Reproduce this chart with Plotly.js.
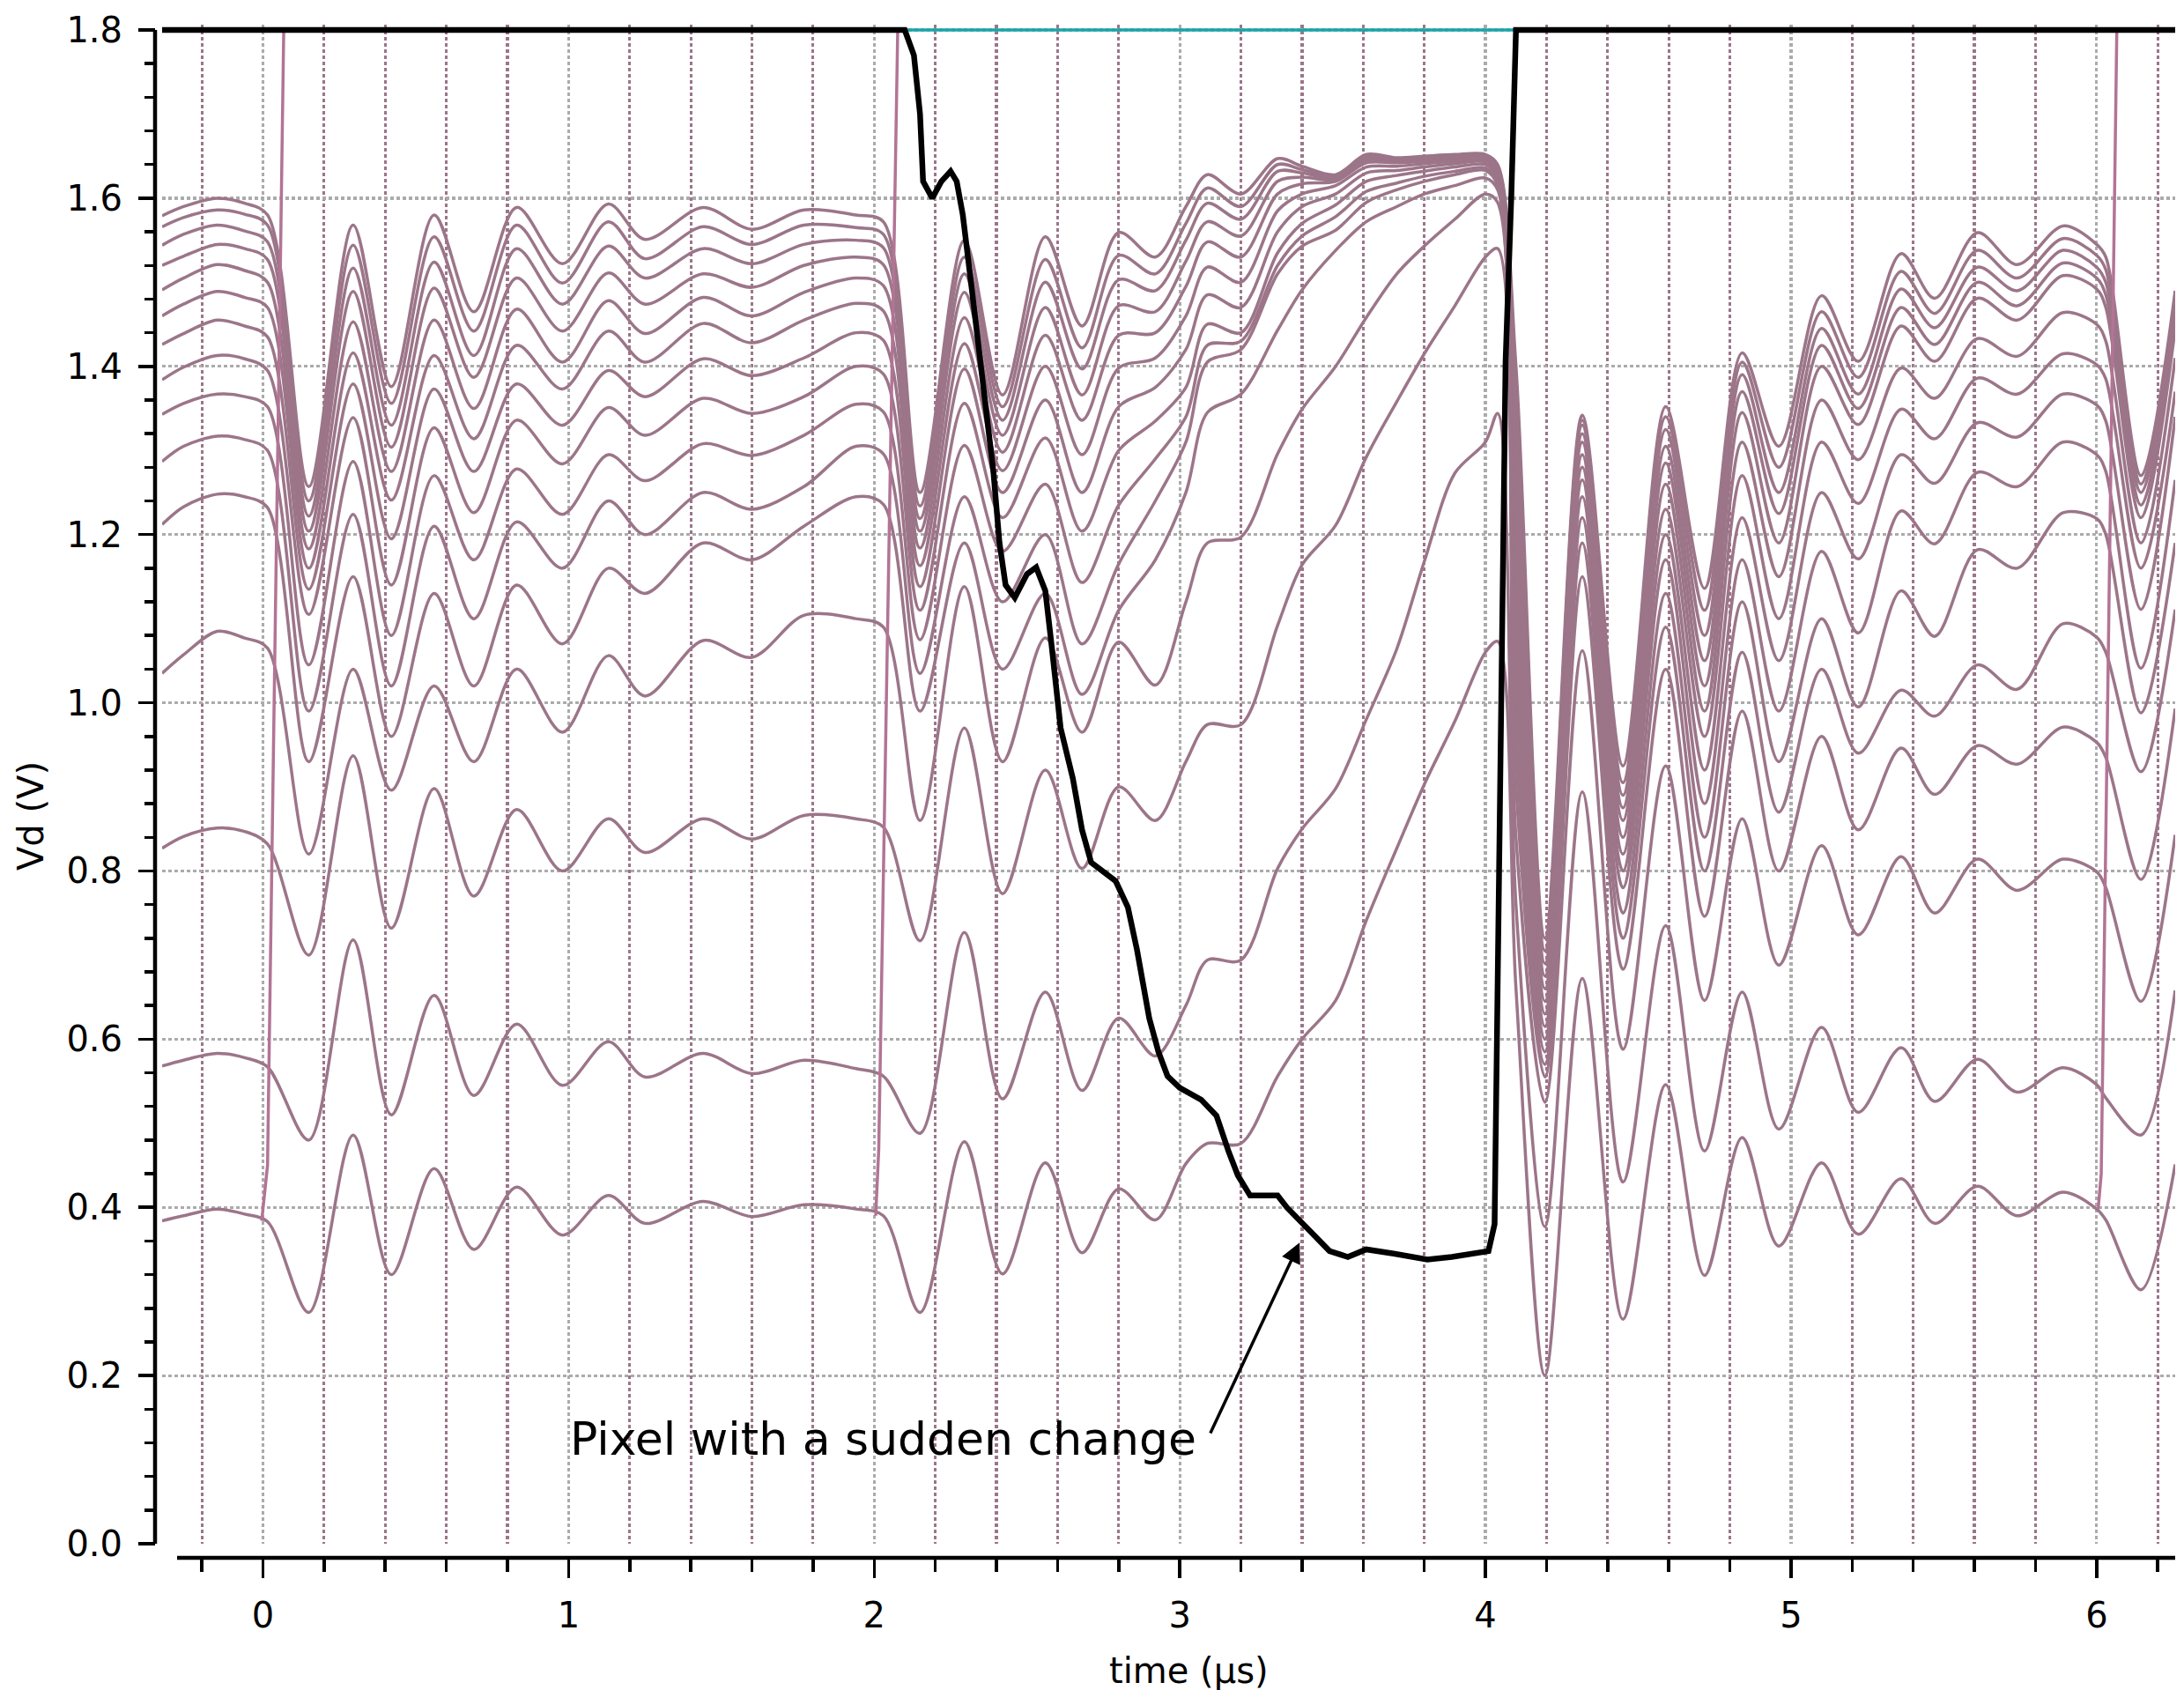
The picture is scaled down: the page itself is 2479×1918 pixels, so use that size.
<!DOCTYPE html>
<html>
<head>
<meta charset="utf-8">
<script src="https://cdn.plot.ly/plotly-3.0.1.min.js"></script>
<style>html,body{margin:0;padding:0;background:#fff;}#chart{width:2479px;height:1918px;}</style>
</head>
<body>
<div id="chart"></div>
<script>
// shared time nodes (µs) for the pixel curves
const T = [-0.33,-0.26,-0.15,-0.06,0.015,0.15,0.295,0.42,0.56,0.69,0.83,0.98,1.13,1.25,1.44,1.60,1.77,1.94,2.03,2.15,2.295,2.42,2.56,2.68,2.80,2.92,3.02,3.09,3.20,3.32,3.40,3.51,3.61,3.71,3.80,3.90,4.00,4.04,4.10,4.195,4.317,4.45,4.59,4.717,4.84,4.96,5.10,5.22,5.36,5.47,5.61,5.74,5.89,6.00,6.03,6.145,6.257];

// pixel voltages (V), ordered from highest to lowest curve
const r01 = [1.579,1.590,1.600,1.594,1.580,1.257,1.568,1.376,1.580,1.465,1.589,1.522,1.593,1.551,1.589,1.563,1.586,1.580,1.572,1.250,1.550,1.366,1.554,1.448,1.559,1.530,1.590,1.628,1.605,1.647,1.638,1.628,1.652,1.648,1.650,1.652,1.652,1.640,1.400,0.720,1.342,0.925,1.352,1.136,1.416,1.305,1.484,1.406,1.534,1.481,1.559,1.521,1.567,1.545,1.530,1.270,1.490];
const r02 = [1.566,1.577,1.586,1.581,1.568,1.240,1.544,1.356,1.554,1.442,1.568,1.499,1.572,1.528,1.566,1.545,1.568,1.565,1.557,1.234,1.530,1.352,1.527,1.422,1.532,1.510,1.570,1.612,1.590,1.640,1.634,1.626,1.650,1.647,1.649,1.651,1.651,1.638,1.360,0.705,1.336,0.905,1.340,1.110,1.405,1.280,1.465,1.387,1.513,1.463,1.538,1.505,1.552,1.532,1.515,1.260,1.480];
const r03 = [1.544,1.557,1.568,1.561,1.548,1.222,1.517,1.330,1.524,1.413,1.540,1.474,1.543,1.505,1.540,1.522,1.545,1.550,1.541,1.219,1.510,1.336,1.500,1.397,1.503,1.490,1.550,1.594,1.575,1.632,1.630,1.624,1.648,1.646,1.648,1.650,1.650,1.636,1.320,0.690,1.330,0.890,1.325,1.080,1.390,1.250,1.445,1.367,1.492,1.446,1.518,1.490,1.538,1.518,1.500,1.250,1.470];
const r04 = [1.520,1.531,1.545,1.540,1.527,1.204,1.489,1.304,1.493,1.387,1.505,1.442,1.511,1.474,1.510,1.494,1.520,1.530,1.521,1.204,1.488,1.318,1.470,1.366,1.472,1.465,1.525,1.572,1.555,1.620,1.625,1.622,1.645,1.644,1.646,1.648,1.649,1.634,1.280,0.675,1.320,0.875,1.305,1.050,1.370,1.225,1.425,1.350,1.470,1.426,1.500,1.472,1.523,1.505,1.485,1.235,1.457];
const r05 = [1.491,1.505,1.521,1.514,1.500,1.183,1.453,1.275,1.455,1.350,1.468,1.405,1.478,1.439,1.482,1.460,1.488,1.505,1.496,1.184,1.458,1.298,1.437,1.336,1.437,1.440,1.495,1.548,1.530,1.605,1.617,1.620,1.642,1.642,1.644,1.646,1.647,1.632,1.240,0.660,1.310,0.860,1.285,1.020,1.345,1.190,1.400,1.331,1.448,1.406,1.481,1.455,1.508,1.492,1.470,1.220,1.445];
const r06 = [1.460,1.474,1.489,1.482,1.470,1.160,1.416,1.241,1.413,1.314,1.425,1.373,1.442,1.405,1.451,1.428,1.455,1.475,1.466,1.163,1.427,1.276,1.400,1.295,1.398,1.410,1.460,1.518,1.500,1.585,1.605,1.615,1.637,1.638,1.641,1.644,1.645,1.630,1.200,0.645,1.295,0.840,1.260,0.990,1.310,1.150,1.360,1.289,1.398,1.362,1.433,1.412,1.464,1.450,1.430,1.190,1.410];
const r07 = [1.426,1.439,1.455,1.448,1.435,1.135,1.379,1.195,1.373,1.275,1.379,1.330,1.395,1.364,1.409,1.389,1.410,1.440,1.431,1.138,1.397,1.250,1.360,1.250,1.352,1.375,1.420,1.485,1.470,1.560,1.590,1.605,1.630,1.633,1.637,1.641,1.643,1.627,1.150,0.630,1.280,0.820,1.230,0.960,1.270,1.100,1.310,1.237,1.349,1.314,1.386,1.367,1.415,1.402,1.385,1.160,1.370];
const r08 = [1.384,1.399,1.413,1.409,1.395,1.105,1.339,1.140,1.327,1.226,1.336,1.284,1.351,1.318,1.362,1.344,1.364,1.400,1.391,1.110,1.356,1.220,1.315,1.204,1.300,1.335,1.375,1.450,1.440,1.535,1.570,1.592,1.620,1.627,1.632,1.637,1.640,1.624,1.100,0.615,1.265,0.800,1.200,0.920,1.220,1.050,1.250,1.171,1.295,1.261,1.333,1.316,1.367,1.354,1.335,1.111,1.340];
const r09 = [1.343,1.356,1.367,1.364,1.352,1.045,1.287,1.080,1.270,1.170,1.278,1.224,1.295,1.264,1.308,1.294,1.318,1.355,1.346,1.075,1.306,1.180,1.260,1.143,1.235,1.290,1.340,1.425,1.430,1.520,1.555,1.578,1.608,1.618,1.626,1.632,1.636,1.620,1.050,0.600,1.245,0.780,1.170,0.880,1.170,0.990,1.180,1.083,1.228,1.189,1.274,1.257,1.310,1.295,1.275,1.041,1.265];
const r10 = [1.287,1.305,1.317,1.313,1.300,0.990,1.224,1.020,1.210,1.100,1.215,1.160,1.240,1.200,1.250,1.230,1.257,1.305,1.296,1.035,1.245,1.120,1.200,1.070,1.165,1.240,1.310,1.405,1.420,1.510,1.543,1.562,1.595,1.610,1.620,1.628,1.633,1.615,1.000,0.585,1.220,0.750,1.130,0.840,1.120,0.930,1.100,0.995,1.133,1.079,1.182,1.160,1.226,1.219,1.200,0.988,1.190];
const r11 = [1.212,1.233,1.248,1.245,1.232,0.930,1.150,0.960,1.130,1.020,1.140,1.070,1.160,1.130,1.190,1.170,1.210,1.245,1.236,0.990,1.190,1.040,1.130,1.010,1.110,1.170,1.250,1.345,1.367,1.443,1.491,1.538,1.572,1.590,1.605,1.615,1.624,1.610,0.950,0.570,1.190,0.720,1.090,0.800,1.060,0.870,1.040,0.940,1.015,0.984,1.045,1.016,1.094,1.078,1.060,0.918,1.111];
const r12 = [1.035,1.057,1.085,1.077,1.065,0.820,1.040,0.896,1.020,0.930,1.040,0.965,1.056,1.008,1.074,1.054,1.104,1.100,1.090,0.860,1.138,0.930,1.077,0.965,1.072,1.021,1.120,1.190,1.197,1.296,1.349,1.400,1.458,1.510,1.543,1.575,1.605,1.595,0.900,0.555,1.150,0.683,1.040,0.746,0.990,0.800,0.960,0.849,0.946,0.891,0.949,0.927,0.971,0.953,0.935,0.790,0.993];
const r13 = [0.827,0.841,0.851,0.847,0.832,0.700,0.937,0.732,0.898,0.770,0.873,0.800,0.862,0.822,0.862,0.838,0.866,0.862,0.852,0.717,0.970,0.773,0.920,0.803,0.900,0.860,0.930,0.974,0.974,1.092,1.164,1.211,1.292,1.358,1.415,1.472,1.530,1.540,0.840,0.525,1.062,0.588,0.925,0.646,0.862,0.688,0.830,0.724,0.817,0.750,0.814,0.777,0.814,0.799,0.780,0.645,0.843];
const r14 = [0.568,0.575,0.583,0.578,0.567,0.480,0.718,0.510,0.652,0.533,0.618,0.545,0.597,0.555,0.583,0.559,0.575,0.565,0.556,0.488,0.727,0.529,0.656,0.539,0.625,0.580,0.640,0.694,0.694,0.803,0.850,0.898,0.980,1.064,1.168,1.273,1.310,1.344,0.760,0.377,0.894,0.430,0.735,0.467,0.656,0.493,0.614,0.513,0.590,0.526,0.576,0.537,0.566,0.546,0.530,0.486,0.658];
const r15 = [0.384,0.390,0.398,0.392,0.383,0.275,0.486,0.320,0.446,0.350,0.424,0.367,0.414,0.381,0.407,0.389,0.403,0.398,0.390,0.275,0.478,0.321,0.453,0.346,0.422,0.385,0.452,0.476,0.476,0.556,0.600,0.646,0.741,0.827,0.903,0.978,1.060,1.073,0.660,0.200,0.672,0.267,0.546,0.319,0.483,0.354,0.453,0.368,0.434,0.381,0.425,0.390,0.418,0.398,0.385,0.302,0.451];

// pixels being re-written to 1.8 V
const w1t = [-0.004, 0.015, 0.068],  w1v = [0.384, 0.45, 1.8];
const w2t = [2.005, 2.015, 2.077],   w2v = [0.390, 0.47, 1.8];
const w3t = [6.005, 6.015, 6.066],   w3v = [0.398, 0.44, 1.8];

// pixel held at 1.8 V
const holdT = [-0.33, 6.257], holdV = [1.8, 1.8];

// pixel with a sudden change
const bt = [-0.33,2.10,2.13,2.15,2.16,2.19,2.22,2.25,2.27,2.29,2.32,2.36,2.39,2.41,2.43,2.46,2.50,2.53,2.56,2.58,2.61,2.65,2.68,2.71,2.75,2.79,2.83,2.86,2.90,2.93,2.96,3.00,3.07,3.12,3.16,3.19,3.23,3.32,3.35,3.40,3.49,3.55,3.61,3.70,3.81,3.89,4.01,4.03,4.045,4.055,4.066,4.085,4.10,6.257];
const bv = [1.8,1.8,1.77,1.70,1.62,1.60,1.62,1.632,1.62,1.58,1.49,1.366,1.275,1.19,1.14,1.125,1.153,1.161,1.133,1.07,0.97,0.91,0.849,0.81,0.798,0.788,0.757,0.706,0.625,0.585,0.556,0.542,0.528,0.509,0.466,0.438,0.414,0.414,0.40,0.381,0.348,0.341,0.35,0.345,0.338,0.341,0.348,0.38,0.78,1.16,1.406,1.605,1.8,1.8];

const xTickVals = [0,1,2,3,4,5,6];
const yTickVals = [0.0,0.2,0.4,0.6,0.8,1.0,1.2,1.4,1.6,1.8];

const pixelCurves = [r01,r02,r03,r04,r05,r06,r07,r08,r09,r10,r11,r12,r13,r14,r15];
pixelCurves.forEach((c,i)=>{ if(c.length!==T.length) throw new Error('curve '+(i+1)+' has '+c.length+' values, expected '+T.length); });
if (bt.length !== bv.length) throw new Error('black lengths '+bt.length+' '+bv.length);

const MAUVE = '#9c7589', PINK = '#b27495';
const traces = [];
pixelCurves.forEach(c => traces.push({x:T, y:c, type:'scatter', mode:'lines', line:{color:MAUVE, width:3.5, shape:'spline', smoothing:0.9}, hoverinfo:'skip'}));
[[w1t,w1v],[w2t,w2v],[w3t,w3v]].forEach(([x,y]) => traces.push({x, y, type:'scatter', mode:'lines', line:{color:PINK, width:3.5}, hoverinfo:'skip'}));
traces.push({x:holdT, y:holdV, type:'scatter', mode:'lines', line:{color:'#1aa5a8', width:3.5}, hoverinfo:'skip'});
traces.push({x:bt, y:bv, type:'scatter', mode:'lines', line:{color:'#000000', width:6.5}, hoverinfo:'skip'});

const W = 2479, H = 1918;
const FONT = 'DejaVu Sans';
const GRIDDASH = '3.5px,3.5px';
const layout = {
  width: W, height: H,
  margin: {l:0, r:0, t:0, b:0},
  paper_bgcolor: '#ffffff', plot_bgcolor: '#ffffff',
  showlegend: false,
  font: {family: FONT, color: '#000'},
  xaxis: {
    domain: [184/W, 2469/W], range: [-0.33, 6.257],
    anchor: 'free', position: 150/H,
    showline: false,
    tickmode: 'array', tickvals: xTickVals,
    ticks: 'outside', ticklen: 22, tickwidth: 3.5, tickcolor: '#000',
    tickfont: {family: FONT, size: 40, color: '#000'}, ticklabelstandoff: 8,
    showgrid: true, gridcolor: '#ababab', gridwidth: 3.2, griddash: GRIDDASH,
    zeroline: false,
    minor: {dtick: 0.2, tick0: 0, ticks: 'outside', ticklen: 15, tickwidth: 3.5, tickcolor: '#000',
            showgrid: true, gridcolor: MAUVE, gridwidth: 3.2, griddash: GRIDDASH}
  },
  yaxis: {
    domain: [166/H, (H-28.3)/H], range: [0, 1.806],
    anchor: 'free', position: 176/W,
    showline: false,
    tickmode: 'array', tickvals: yTickVals, tickformat: '.1f',
    ticks: 'outside', ticklen: 19, tickwidth: 3.5, tickcolor: '#000',
    tickfont: {family: FONT, size: 40, color: '#000'}, ticklabelstandoff: 10,
    showgrid: true, gridcolor: '#ababab', gridwidth: 3.2, griddash: GRIDDASH,
    zeroline: false,
    minor: {dtick: 0.04, tick0: 0, ticks: 'outside', ticklen: 12, tickwidth: 3.5, tickcolor: '#000', showgrid: false}
  },
  shapes: [
    // offset spines (bottom and left), as in the reference
    {type:'line', xref:'paper', yref:'paper', x0:201/W, x1:2469/W, y0:150/H, y1:150/H, line:{color:'#000', width:4.5}},
    {type:'line', xref:'paper', yref:'paper', x0:176/W, x1:176/W, y0:166/H, y1:(H-34)/H, line:{color:'#000', width:4.5}}
  ],
  annotations: [
    {xref:'x', yref:'y', x:3.06, y:0.125, xanchor:'right', yanchor:'middle', showarrow:false,
     text:'Pixel with a sudden change', font:{family:FONT, size:52, color:'#000'}},
    {xref:'x', yref:'y', x:3.392, y:0.358, axref:'x', ayref:'y', ax:3.098, ay:0.13, text:'',
     showarrow:true, arrowhead:2, arrowsize:1.3, arrowwidth:3.5, arrowcolor:'#000', standoff:0, startstandoff:0},
    {xref:'paper', yref:'paper', x:1349/W, y:22/H, xanchor:'center', yanchor:'middle', showarrow:false,
     text:'time (µs)', font:{family:FONT, size:40, color:'#000'}},
    {xref:'paper', yref:'paper', x:35/W, y:(H-926)/H, xanchor:'center', yanchor:'middle', showarrow:false,
     textangle:-90, text:'Vd (V)', font:{family:FONT, size:40, color:'#000'}}
  ]
};

Plotly.newPlot('chart', traces, layout, {staticPlot:true, displayModeBar:false});
</script>
</body>
</html>
